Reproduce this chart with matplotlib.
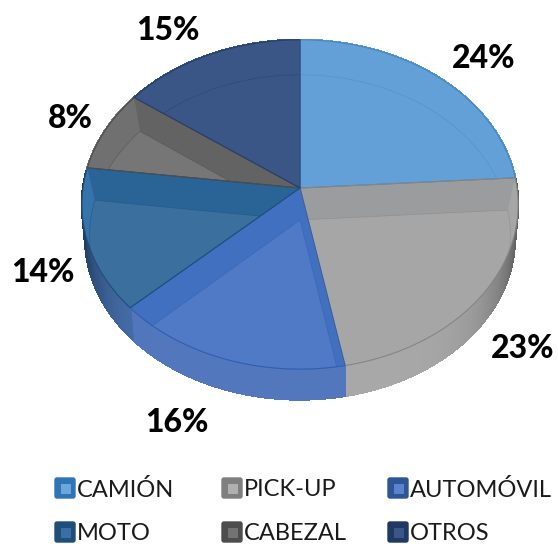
import numpy as np
import matplotlib
matplotlib.use("Agg")
import matplotlib.pyplot as plt
from matplotlib.colors import to_rgb
from matplotlib.patches import Polygon, Rectangle, FancyBboxPatch

# data
categories = ["CAMIÓN", "PICK-UP", "AUTOMÓVIL", "MOTO", "CABEZAL", "OTROS"]
values = [24, 23, 16, 14, 8, 15]
labels = ["24%", "23%", "16%", "14%", "8%", "15%"]

# colours: band = inner wall seen through the top, floor = lighter inner face
band_colors = ["#5f9cd6", "#9a9c9e", "#4270c0", "#2a6496", "#636363", "#3a5687"]
floor_colors = ["#64a0d8", "#a6a6a6", "#5079c6", "#3a6f9e", "#767676", "#3a5687"]
rim_colors = ["#64a0d8", "#a6a6a6", "#5079c6", "#3573ab", "#707070", "#3a5687"]
edge_colors = ["#4a86c0", "#858585", "#2f5fae", "#1f4e79", "#4d4d4d", "#263f6b"]
wall_light = ["#5f9cd6", "#a8a8a8", "#5277bd", "#4a74b4", "#767676", "#3a5687"]
wall_dark = ["#5f9cd6", "#555555", "#4a6fb5", "#1f3c5c", "#767676", "#3a5687"]
swatch_outer = ["#2e75b6", "#7f7f7f", "#2f5597", "#1f4e79", "#4d4d4d", "#1f3864"]
swatch_inner = ["#6ea6da", "#b0b0b0", "#5b82cc", "#3a6ea5", "#737373", "#3c5688"]

# layout
label_pos = [(484, 58), (523, 349), (177, 422), (43, 273), (70, 119), (168, 31)]
legend_pos = [(54, 477), (221, 477), (387, 477), (54, 521), (221, 521), (387, 521)]

cx, cy = 300, 188
a, b, k = 217, 163, 0.1


def project(t, r=1.0):
    # t is clockwise from the top, in radians
    X = r * np.sin(t)
    Y = r * np.cos(t)
    s = 1 + k * Y
    return np.column_stack([cx + a * X / s, cy - b * Y / s])


def to_floor(pts, sx=0.965, sy=0.98, dy=32):
    out = np.array(pts, dtype=float)
    out[:, 0] = cx + (out[:, 0] - cx) * sx
    out[:, 1] = cy + (out[:, 1] - cy) * sy + dy
    return out


def slice_poly(t0, t1):
    arc = project(np.linspace(t0, t1, 120))
    return np.vstack([[cx, cy], arc])


fig = plt.figure(figsize=(5.58, 5.44), dpi=100)
ax = fig.add_axes([0, 0, 1, 1])
ax.set_xlim(0, 558)
ax.set_ylim(544, 0)
ax.axis("off")

edges = np.radians(np.cumsum([0] + values) * 3.6)

# side wall first, it sits under everything
for i in range(len(values)):
    ts = np.linspace(edges[i], edges[i + 1], 80)
    for j in range(len(ts) - 1):
        top = project(ts[j:j + 2])
        bot = to_floor(top, 0.985, 0.98, 34)
        # darker towards the ends of the visible front
        f = abs(np.sin(ts[j])) ** 6
        col = np.array(to_rgb(wall_light[i])) * (1 - f) + np.array(to_rgb(wall_dark[i])) * f
        ax.add_patch(Polygon(np.vstack([top, bot[::-1]]), fc=col, ec=col, lw=1,
                             antialiased=False, zorder=1))

# slices
for i in range(len(values)):
    poly = slice_poly(edges[i], edges[i + 1])
    top = Polygon(poly, fc=rim_colors[i], ec="none", zorder=2)
    ax.add_patch(top)
    floor = Polygon(to_floor(poly), fc=floor_colors[i], ec="none", zorder=3)
    ax.add_patch(floor)
    floor.set_clip_path(top)
    rim = Polygon(to_floor(poly), fc="none", ec=edge_colors[i], lw=0.5, alpha=0.55, zorder=4)
    ax.add_patch(rim)
    rim.set_clip_path(top)
    # inner walls under the two straight edges
    apex = np.array([[cx, cy]])
    for t in (edges[i], edges[i + 1]):
        line = np.vstack([apex, project(np.array([t]))])
        strip = Polygon(np.vstack([line, to_floor(line)[::-1]]), fc=band_colors[i], ec="none", zorder=3.5)
        ax.add_patch(strip)
        strip.set_clip_path(top)
    ax.add_patch(Polygon(poly, fc="none", ec=edge_colors[i], lw=0.8, zorder=5))

for lab, (x, y) in zip(labels, label_pos):
    ax.text(x, y, lab, ha="center", va="center", fontsize=23, fontweight=900,
            family="Lato", color="black", zorder=6)

# legend
for i, (x, y) in enumerate(legend_pos):
    ax.add_patch(FancyBboxPatch((x + 1, y + 1), 20, 20, boxstyle="round,pad=0,rounding_size=2",
                                fc=swatch_outer[i], ec=swatch_outer[i], lw=1))
    ax.add_patch(Rectangle((x + 6.5, y + 6.5), 10, 10, fc=swatch_inner[i], ec="none", zorder=3))
    ax.text(x + 23, y + 13, categories[i], ha="left", va="center", fontsize=17,
            family="Lato", color="#1a1a1a")

fig.savefig("out.png", dpi=100)
